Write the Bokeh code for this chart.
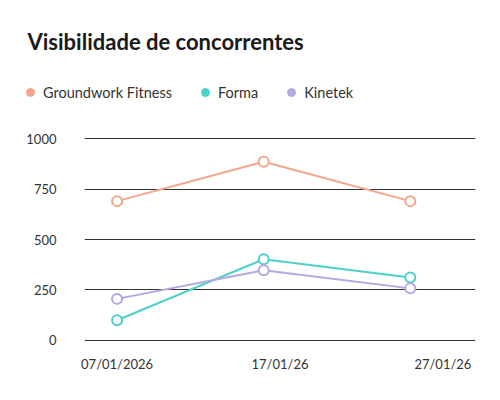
from bokeh.plotting import figure
from bokeh.models import Range1d, FixedTicker, Legend, LegendItem
from bokeh.layouts import column
from bokeh.embed import file_html
from bokeh.resources import INLINE

# ---- data ----
title_text = "Visibilidade de concorrentes"
series_names = ["Groundwork Fitness", "Forma", "Kinetek"]
series_colors = ["#F4A58C", "#4FD1C7", "#B3A8E0"]
days = [7, 16, 25]  # day of January 2026
groundwork = [690, 885, 690]
forma = [100, 402, 312]
kinetek = [206, 348, 258]
x_tick_days = [7, 17, 27]
x_tick_labels = ["07/01/2026", "17/01/26", "27/01/26"]
y_ticks = [0, 250, 500, 750, 1000]

FONT = "Lato"
TXT = "#333333"
NAN = float("nan")

# ---------- header: title + legend ----------
head = figure(width=484, height=120, output_backend="svg", toolbar_location=None,
              x_range=Range1d(0, 1), y_range=Range1d(0, 1),
              x_axis_location=None, y_axis_location=None,
              min_border_left=0, min_border_right=0, min_border_top=0, min_border_bottom=0)
head.frame_align = False
head.outline_line_color = None
head.grid.visible = False
head.title.text = title_text
head.title.text_font = FONT
head.title.text_font_size = "22px"
head.title.text_font_style = "bold"
head.title.text_color = "#1a1a1a"
head.title.align = "left"
head.title.offset = 27
head.title.standoff = 50

items = []
for name, color in zip(series_names, series_colors):
    # legend key only (no visible point)
    key = head.scatter(x=[NAN], y=[NAN], marker="circle", fill_color=color, line_color=color)
    items.append(LegendItem(label=name, renderers=[key]))
legend = Legend(items=items, orientation="horizontal", location=(20, 18),
                padding=0, margin=0, spacing=23, label_standoff=3,
                glyph_width=20, glyph_height=20, label_height=20,
                border_line_color=None, background_fill_alpha=0,
                label_text_font=FONT, label_text_font_size="14.5px", label_text_color=TXT)
head.add_layout(legend, "center")

# ---------- main chart ----------
p = figure(width=484, height=264, output_backend="svg", toolbar_location=None,
           x_range=Range1d(5, 29), y_range=Range1d(-10, 1010),
           min_border_left=84, min_border_right=9, min_border_top=16, min_border_bottom=42)
p.frame_align = False
p.outline_line_color = None

p.xaxis.ticker = FixedTicker(ticks=x_tick_days)
p.xaxis.major_label_overrides = {d: l for d, l in zip(x_tick_days, x_tick_labels)}
p.yaxis.ticker = FixedTicker(ticks=y_ticks)
for ax in (p.xaxis[0], p.yaxis[0]):
    ax.axis_line_color = None
    ax.major_tick_line_color = None
    ax.minor_tick_line_color = None
    ax.major_tick_out = 0
    ax.major_tick_in = 0
    ax.major_label_text_font = FONT
    ax.major_label_text_font_size = "13px"
    ax.major_label_text_color = TXT
p.xaxis.major_label_standoff = 13
p.yaxis.major_label_standoff = 28

p.xgrid.grid_line_color = None
p.ygrid.ticker = FixedTicker(ticks=y_ticks)
p.ygrid.grid_line_color = "#333333"
p.ygrid.grid_line_width = 1

for color, vals in zip(series_colors, [groundwork, forma, kinetek]):
    p.line(days, vals, line_color=color, line_width=2)
    p.scatter(days, vals, size=10, marker="circle", line_color=color, line_width=2,
              fill_color="white")

layout = column(head, p, spacing=0)
open("out.html", "w").write(file_html(layout, INLINE))
